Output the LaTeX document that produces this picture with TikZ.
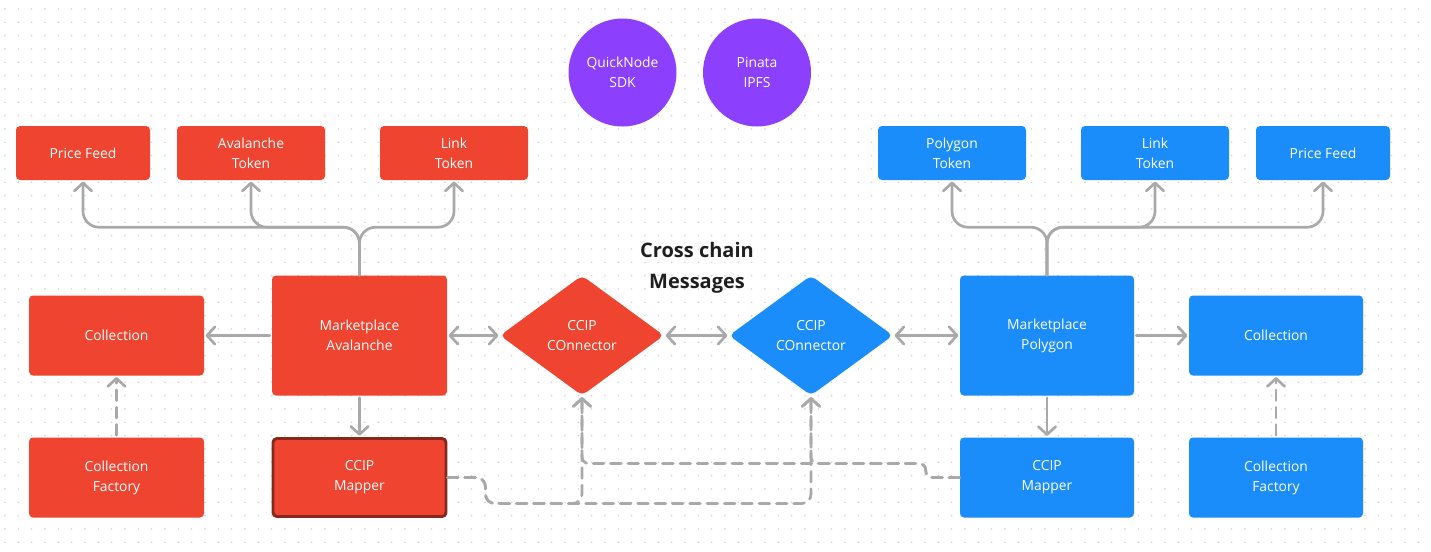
\documentclass[tikz,border=0pt]{standalone}
\usepackage{fontspec}
\setmainfont{Open Sans}
\usetikzlibrary{arrows.meta,shapes.geometric}
\definecolor{redc}{HTML}{EE4430}
\definecolor{bluec}{HTML}{1B8DFB}
\definecolor{purpc}{HTML}{8C3FFD}
\definecolor{grayc}{HTML}{A9A9A9}
\definecolor{darkred}{HTML}{86281C}
\definecolor{dotc}{HTML}{CBCBCB}
\def\pxu{0.75pt}
\tikzset{
  box/.style={rectangle, rounded corners=3pt, text=white, align=center, inner sep=0pt, font=\fontsize{10.4}{15}\selectfont},
  redbox/.style={box, fill=redc},
  bluebox/.style={box, fill=bluec},
  sz/.style 2 args={minimum width=#1*\pxu, minimum height=#2*\pxu},
  conn/.style={diamond, inner sep=0pt, rounded corners=4pt, text=white, align=center, font=\fontsize{10.4}{15}\selectfont, minimum width=164*\pxu, minimum height=120*\pxu},
  bubble/.style={circle, fill=purpc, text=white, align=center, inner sep=0pt, minimum size=108*\pxu, font=\fontsize{10.4}{15}\selectfont},
  tip/.tip={Straight Barb[length=6pt,width=13pt,line cap=round,line join=round]},
  arr/.style={draw=grayc, line width=2pt, line cap=round, line join=round, -tip, shorten >=1pt},
  darr/.style={arr, tip-tip, shorten <=1pt},
  dline/.style={arr, dash pattern=on 8pt off 5pt},
}
\begin{document}
\begin{tikzpicture}[x=0.75pt, y=-0.75pt]
\useasboundingbox (0,0) rectangle (1431,551);
\fill[white] (0,0) rectangle (1431,551);
\foreach \i in {0,...,106}{
  \foreach \j in {0,...,41}{
    \fill[dotc] ({5+13.333*\i},{9+13.333*\j}) circle (0.6pt);
  }
}
% purple bubbles
\node[bubble] (qn) at (622.5,72.5) {QuickNode\\SDK};
\node[bubble] (pin) at (757,72.5) {Pinata\\IPFS};
% title
\node[font=\fontsize{15}{23}\selectfont\bfseries, align=center, text=black!88, inner sep=0pt] (title) at (697,268) {Cross chain\\Messages};
% red side
\node[redbox, sz={134}{54}] (pfA) at (83,153) {Price Feed};
\node[redbox, sz={148}{54}] (avA) at (251,153) {Avalanche\\Token};
\node[redbox, sz={148}{54}] (lkA) at (454,153) {Link\\Token};
\node[redbox, sz={175}{120}] (mpA) at (359.5,335.5) {Marketplace\\Avalanche};
\node[redbox, sz={175}{80}] (colA) at (116.5,335.5) {Collection};
\node[redbox, sz={175}{80}] (cfA) at (116.5,477.5) {Collection\\Factory};
\node[redbox, sz={173}{78}, draw=darkred, line width=2.2pt] (mapA) at (359.5,477.5) {CCIP\\Mapper};
\node[conn, fill=redc] (conA) at (582,335.5) {CCIP\\COnnector};
% blue side
\node[conn, fill=bluec] (conB) at (811,335.5) {CCIP\\COnnector};
\node[bluebox, sz={148}{54}] (ptB) at (952,153) {Polygon\\Token};
\node[bluebox, sz={148}{54}] (lkB) at (1155,153) {Link\\Token};
\node[bluebox, sz={134}{54}] (pfB) at (1323,153) {Price Feed};
\node[bluebox, sz={174}{120}] (mpB) at (1047,335.5) {Marketplace\\Polygon};
\node[bluebox, sz={174}{80}] (colB) at (1276,335.5) {Collection};
\node[bluebox, sz={174}{80}] (mapB) at (1047,477.5) {CCIP\\Mapper};
\node[bluebox, sz={174}{80}] (cfB) at (1276,477.5) {Collection\\Factory};
% tree arrows red
\draw[arr, rounded corners=12pt] (mpA.north) -- ++(0,-48) -| (pfA.south);
\draw[arr, rounded corners=12pt] (mpA.north) -- ++(0,-48) -| (avA.south);
\draw[arr, rounded corners=12pt] (mpA.north) -- ++(0,-48) -| (lkA.south);
% tree arrows blue
\draw[arr, rounded corners=12pt] (mpB.north) -- ++(0,-48) -| (ptB.south);
\draw[arr, rounded corners=12pt] (mpB.north) -- ++(0,-48) -| (lkB.south);
\draw[arr, rounded corners=12pt] (mpB.north) -- ++(0,-48) -| (pfB.south);
% horizontal arrows
\draw[arr, shorten <=1.5pt] (mpA.west) -- (colA.east);
\draw[darr] (mpA.east) -- (conA.west);
\draw[darr] (conA.east) -- (conB.west);
\draw[darr] (conB.east) -- (mpB.west);
\draw[arr, shorten <=1.5pt] (mpB.east) -- (colB.west);
% down arrows
\draw[arr, shorten <=1.5pt] (mpA.south) -- (mapA.north);
\draw[arr, shorten <=1.5pt] (mpB.south) -- (mapB.north);
% dashed factory arrows
\draw[dline, shorten <=1.5pt] (cfA.north) -- (colA.south);
\draw[dline, shorten <=1.5pt] (cfB.north) -- (colB.south);
% dashed mapper links
\draw[dline, rounded corners=7pt] (mapA.east) -- ++(38,0) -- ++(0,26) -| (conA.south);
\draw[dline, rounded corners=7pt] (mapA.east) -- ++(38,0) -- ++(0,26) -| (conB.south);
\draw[dline, rounded corners=5pt] (mapB.west) -- ++(-34,0) -- ++(0,-14) -| (conA.south);
\draw[dline, rounded corners=5pt] (mapB.west) -- ++(-34,0) -- ++(0,-14) -| (conB.south);
\end{tikzpicture}
\end{document}
